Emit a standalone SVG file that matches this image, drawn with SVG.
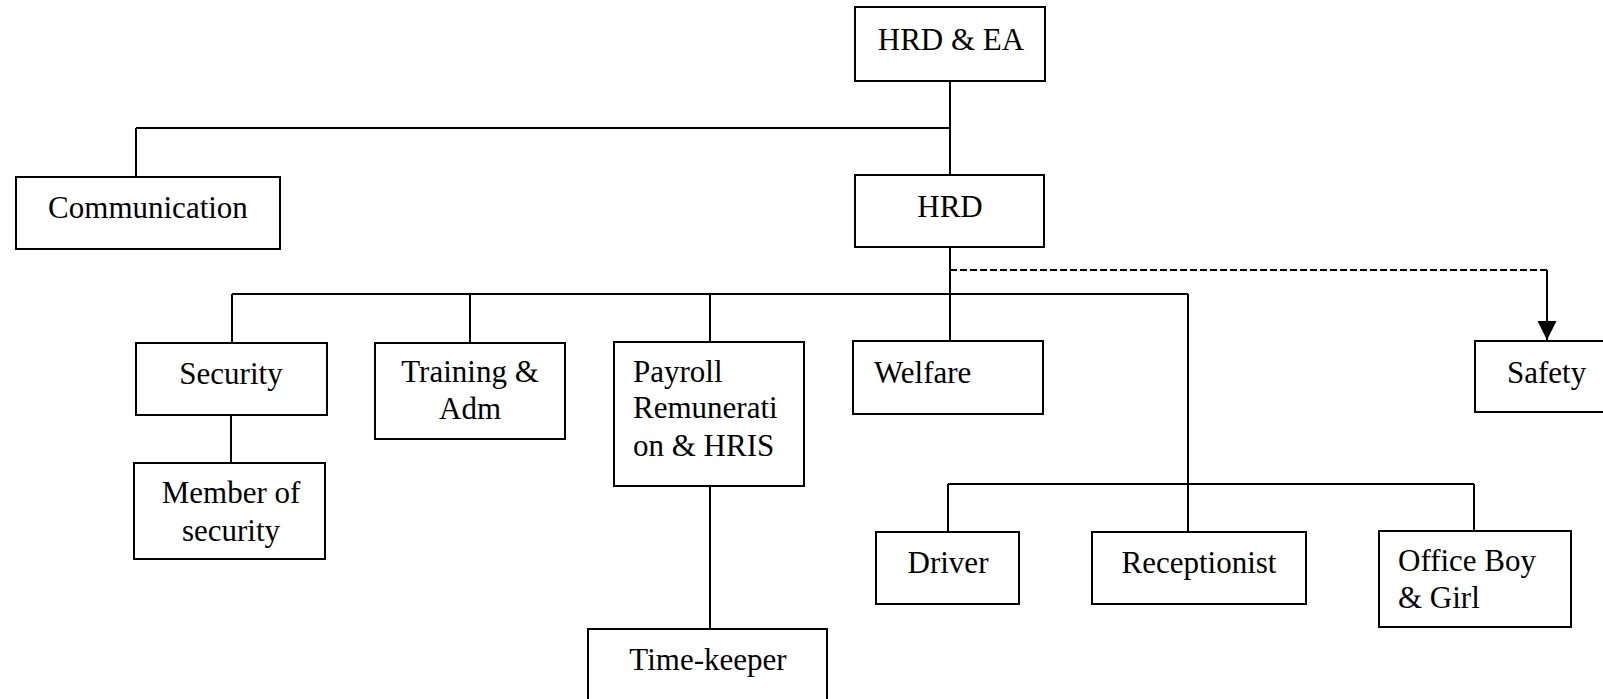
<svg xmlns="http://www.w3.org/2000/svg" width="1603" height="699" viewBox="0 0 1603 699">
<defs>
<style>
.box{fill:#fff;stroke:#000;stroke-width:2}
.ln{fill:none;stroke:#000;stroke-width:2}
.dash{fill:none;stroke:#000;stroke-width:2;stroke-dasharray:7 3}
text{font-family:"Liberation Serif","Times New Roman",serif;font-size:31px;fill:#000}
.c{text-anchor:middle}
</style>
<marker id="arr" markerWidth="19" markerHeight="20" refX="19" refY="9.5" orient="auto" markerUnits="userSpaceOnUse">
<path d="M0,0 L19,9.5 L0,19 Z" fill="#000"/>
</marker>
</defs>
<rect width="1603" height="699" fill="#fff"/>
<g id="connectors">
<path class="ln" d="M950,81 V175"/>
<path class="ln" d="M136,128 H950"/>
<path class="ln" d="M136,128 V177"/>
<path class="ln" d="M950,247 V341"/>
<path class="ln" d="M232,294 H1188"/>
<path class="ln" d="M232,294 V343"/>
<path class="ln" d="M470,294 V343"/>
<path class="ln" d="M710,294 V342"/>
<path class="ln" d="M1188,294 V532"/>
<path class="ln" d="M231,415 V463"/>
<path class="ln" d="M710,486 V629"/>
<path class="ln" d="M948,484 H1474"/>
<path class="ln" d="M948,484 V532"/>
<path class="ln" d="M1474,484 V531"/>
<path class="dash" d="M950,270 H1547"/>
<path class="ln" d="M1547,270 V340" marker-end="url(#arr)"/>
</g>
<g id="n-hrdea"><rect class="box" x="855" y="7" width="190" height="74"/><text class="c" x="951" y="50">HRD &amp; EA</text></g>
<g id="n-comm"><rect class="box" x="16" y="177" width="264" height="72"/><text class="c" x="148" y="218">Communication</text></g>
<g id="n-hrd"><rect class="box" x="855" y="175" width="189" height="72"/><text class="c" x="950" y="217">HRD</text></g>
<g id="n-security"><rect class="box" x="136" y="343" width="191" height="72"/><text class="c" x="231" y="384">Security</text></g>
<g id="n-member"><rect class="box" x="134" y="463" width="191" height="96"/><text class="c" x="231" y="503">Member of</text><text class="c" x="231" y="541">security</text></g>
<g id="n-training"><rect class="box" x="375" y="343" width="190" height="96"/><text class="c" x="470" y="382">Training &amp;</text><text class="c" x="470" y="419">Adm</text></g>
<g id="n-payroll"><rect class="box" x="614" y="342" width="190" height="144"/><text x="633" y="382">Payroll</text><text x="633" y="418">Remunerati</text><text x="633" y="456">on &amp; HRIS</text></g>
<g id="n-timekeeper"><rect class="box" x="588" y="629" width="239" height="90"/><text class="c" x="708" y="670">Time-keeper</text></g>
<g id="n-welfare"><rect class="box" x="853" y="341" width="190" height="73"/><text x="874" y="383">Welfare</text></g>
<g id="n-safety"><rect class="box" x="1475" y="341" width="140" height="71"/><text x="1507" y="383">Safety</text></g>
<g id="n-driver"><rect class="box" x="876" y="532" width="143" height="72"/><text class="c" x="948" y="573">Driver</text></g>
<g id="n-receptionist"><rect class="box" x="1092" y="532" width="214" height="72"/><text class="c" x="1199" y="573">Receptionist</text></g>
<g id="n-office"><rect class="box" x="1379" y="531" width="192" height="96"/><text x="1398" y="571">Office Boy</text><text x="1398" y="608">&amp; Girl</text></g>
</svg>
